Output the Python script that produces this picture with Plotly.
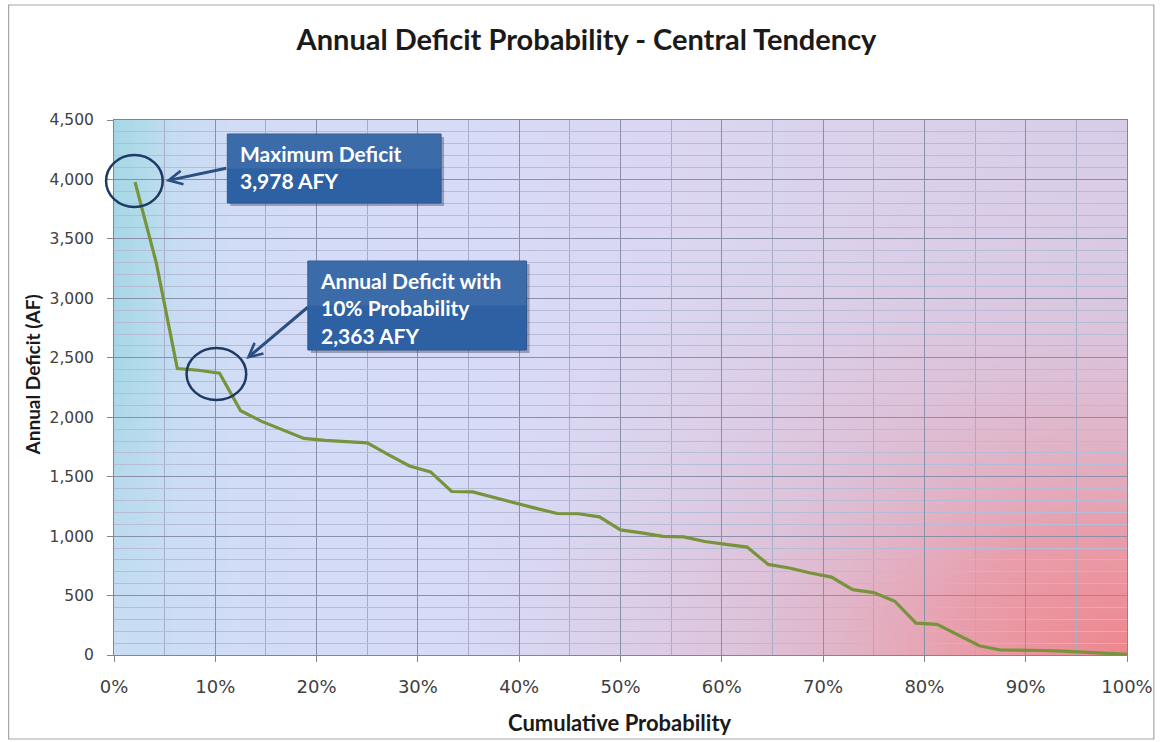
import base64
import plotly.graph_objects as go

# ---------------- data ----------------
cum_prob_pct = [2.08, 4.17, 6.25, 8.33, 10.42, 12.50, 14.58, 16.67, 18.75, 20.83,
                22.92, 25.00, 27.08, 29.17, 31.25, 33.33, 35.42, 37.50, 39.58, 41.67,
                43.75, 45.83, 47.92, 50.00, 52.08, 54.17, 56.25, 58.33, 60.42, 62.50,
                64.58, 66.67, 68.75, 70.83, 72.92, 75.00, 77.08, 79.17, 81.25, 83.33,
                85.42, 87.50, 89.58, 91.67, 93.75, 95.83, 97.92, 100.00]
annual_deficit = [3978, 3300, 2410, 2395, 2370, 2055, 1965, 1895, 1822, 1805,
                  1795, 1784, 1685, 1590, 1540, 1375, 1372, 1325, 1275, 1233,
                  1190, 1188, 1162, 1052, 1027, 998, 994, 955, 930, 908,
                  762, 732, 690, 655, 550, 525, 452, 268, 258, 165,
                  78, 42, 42, 38, 33, 25, 15, 5]

x_tick_vals = [0, 10, 20, 30, 40, 50, 60, 70, 80, 90, 100]
x_tick_text = ["0%", "10%", "20%", "30%", "40%", "50%", "60%", "70%", "80%", "90%", "100%"]
y_tick_vals = [0, 500, 1000, 1500, 2000, 2500, 3000, 3500, 4000, 4500]

title_text = "Annual Deficit Probability - Central Tendency"
x_title = "Cumulative Probability"
y_title = "Annual Deficit (AF)"
box1_text = "Maximum Deficit<br>3,978 AFY"
box2_text = "Annual Deficit with<br>10% Probability<br>2,363 AFY"

# ---------------- layout geometry ----------------
W, H = 1165, 742
L, R, T, B = 114, 1133, 120, 655
PW, PH = R - L, B - T


def px(x):
    return (x - L) / (R - L)


def py(y):
    return (B - y) / (B - T)


# background gradient (svg data uri, in plot-area pixels)
svg = f"""<svg xmlns="http://www.w3.org/2000/svg" width="{PW}" height="{PH}" viewBox="0 0 {PW} {PH}" preserveAspectRatio="none">
<defs>
<linearGradient id="h" gradientUnits="userSpaceOnUse" x1="0" y1="0" x2="{PW}" y2="0">
<stop offset="0" stop-color="#a6d7e6"/>
<stop offset="0.03" stop-color="#b2dbea"/>
<stop offset="0.06" stop-color="#c6dcf2"/>
<stop offset="0.12" stop-color="#d2dcf6"/>
<stop offset="0.35" stop-color="#d7dbf7"/>
<stop offset="0.55" stop-color="#dbd6f1"/>
<stop offset="0.8" stop-color="#dad0ea"/>
<stop offset="1" stop-color="#d8cde8"/>
</linearGradient>
<radialGradient id="bl" gradientUnits="userSpaceOnUse" cx="0" cy="{PH}" r="300"
  gradientTransform="translate(0,{PH}) scale(0.5,1) translate(0,-{PH})">
<stop offset="0" stop-color="#d2def6" stop-opacity="0.85"/>
<stop offset="1" stop-color="#d2def6" stop-opacity="0"/>
</radialGradient>
<radialGradient id="r" gradientUnits="userSpaceOnUse" cx="{PW}" cy="{PH}" r="680"
  gradientTransform="translate({PW},{PH}) scale(1,0.75) translate(-{PW},-{PH})">
<stop offset="0" stop-color="#ee868c" stop-opacity="1"/>
<stop offset="0.25" stop-color="#ea98a4" stop-opacity="0.9"/>
<stop offset="0.55" stop-color="#e0b2c6" stop-opacity="0.55"/>
<stop offset="1" stop-color="#dccbe4" stop-opacity="0"/>
</radialGradient>
</defs>
<rect x="0" y="0" width="{PW}" height="{PH}" fill="url(#h)"/>
<rect x="0" y="0" width="{PW}" height="{PH}" fill="url(#bl)"/>
<rect x="0" y="0" width="{PW}" height="{PH}" fill="url(#r)"/>
</svg>"""
svg_uri = "data:image/svg+xml;base64," + base64.b64encode(svg.encode()).decode()

fig = go.Figure()
fig.add_trace(go.Scatter(
    x=cum_prob_pct, y=annual_deficit, mode="lines",
    line=dict(color="#77933C", width=3.2), showlegend=False, hoverinfo="x+y",
))

fig.update_layout(
    width=W, height=H,
    margin=dict(l=L, r=W - R, t=T, b=H - B, pad=0),
    paper_bgcolor="white",
    plot_bgcolor="rgba(0,0,0,0)",
    showlegend=False,
    title=dict(text="<b>" + title_text + "</b>", xref="container", yref="container",
               x=586.5 / W, y=1 - 40 / H, xanchor="center", yanchor="middle",
               font=dict(family="Lato", size=29, color="#1a1a1a")),
    xaxis=dict(range=[0, 100], tickvals=x_tick_vals, ticktext=x_tick_text,
               tickfont=dict(family="DejaVu Sans", size=18, color="#404040"),
               ticks="outside", ticklen=6, tickcolor="#868686",
               ticklabelstandoff=9,
               showgrid=True, gridcolor="#8a8faa", gridwidth=1,
               minor=dict(dtick=5, showgrid=True, gridcolor="#a7adc8", gridwidth=1, ticks=""),
               showline=True, linecolor="#868686", linewidth=1, mirror=True,
               zeroline=False, fixedrange=True),
    yaxis=dict(range=[0, 4500], tickvals=y_tick_vals, tickformat=",d",
               tickfont=dict(family="DejaVu Sans", size=15.5, color="#404040"),
               ticks="outside", ticklen=6, tickcolor="#868686",
               ticklabelstandoff=10,
               showgrid=True, gridcolor="#8a8faa", gridwidth=1,
               minor=dict(dtick=100, showgrid=True, gridcolor="#b6bcd6", gridwidth=1, ticks=""),
               showline=True, linecolor="#868686", linewidth=1, mirror=True,
               zeroline=False, fixedrange=True),
    images=[dict(source=svg_uri, xref="paper", yref="paper", x=0, y=1, sizex=1, sizey=1,
                 xanchor="left", yanchor="top", sizing="stretch", layer="below")],
)

shapes = []
# outer chart frame
shapes.append(dict(type="rect", xref="paper", yref="paper",
                   x0=px(8), x1=px(1160), y0=py(739), y1=py(5),
                   line=dict(color="#a6a6a6", width=1.2), fillcolor="rgba(0,0,0,0)", layer="below"))


def box(x0, y0, x1, y1):
    # shadow
    shapes.append(dict(type="rect", xref="paper", yref="paper",
                       x0=px(x0 + 3), x1=px(x1 + 3), y0=py(y1 + 3), y1=py(y0 + 3),
                       line=dict(width=0), fillcolor="rgba(40,40,60,0.35)"))
    shapes.append(dict(type="rect", xref="paper", yref="paper",
                       x0=px(x0), x1=px(x1), y0=py(y1), y1=py(y0),
                       line=dict(color="#2a5690", width=1), fillcolor="#2d61a3"))
    # subtle lighter top half
    shapes.append(dict(type="rect", xref="paper", yref="paper",
                       x0=px(x0), x1=px(x1), y0=py((y0 + y1) / 2), y1=py(y0),
                       line=dict(width=0), fillcolor="rgba(255,255,255,0.07)"))


box(228, 134, 443, 203)
box(309, 261, 529, 350)

# circles
shapes.append(dict(type="circle", xref="paper", yref="paper",
                   x0=px(106), x1=px(163), y0=py(207), y1=py(155),
                   line=dict(color="#1f3864", width=2.5)))
shapes.append(dict(type="circle", xref="paper", yref="paper",
                   x0=px(187), x1=px(247), y0=py(400), y1=py(348),
                   line=dict(color="#1f3864", width=2.5)))
fig.update_layout(shapes=shapes)

box_font = dict(family="Lato", size=21, color="white")
annotations = [
    dict(text="<b>" + box1_text + "</b>", xref="paper", yref="paper",
         x=px(239), y=py(167), xanchor="left", yanchor="middle", align="left",
         showarrow=False, font=box_font),
    dict(text="<b>" + box2_text + "</b>", xref="paper", yref="paper",
         x=px(319), y=py(308), xanchor="left", yanchor="middle", align="left",
         showarrow=False, font=box_font),
    # arrows
    dict(text="", xref="paper", yref="paper", x=px(166), y=py(181),
         ax=62, ay=-13, showarrow=True, arrowhead=5, arrowsize=0.9,
         arrowwidth=3, arrowcolor="#2b4f81"),
    dict(text="", xref="paper", yref="paper", x=px(247), y=py(359),
         ax=63, ay=-53, showarrow=True, arrowhead=5, arrowsize=0.9,
         arrowwidth=3, arrowcolor="#2b4f81"),
    # axis titles
    dict(text="<b>" + y_title + "</b>", xref="paper", yref="paper",
         x=px(32), y=py(375), xanchor="center", yanchor="middle", textangle=-90,
         showarrow=False, font=dict(family="Lato", size=19, color="#1a1a1a")),
    dict(text="<b>" + x_title + "</b>", xref="paper", yref="paper",
         x=px(623), y=py(722), xanchor="center", yanchor="middle",
         showarrow=False, font=dict(family="Lato", size=22, color="#1a1a1a")),
]
fig.update_layout(annotations=annotations)

fig.write_html("out.html", config={"displayModeBar": False},
               post_script="document.body.style.margin='0';document.body.style.overflow='hidden';")
